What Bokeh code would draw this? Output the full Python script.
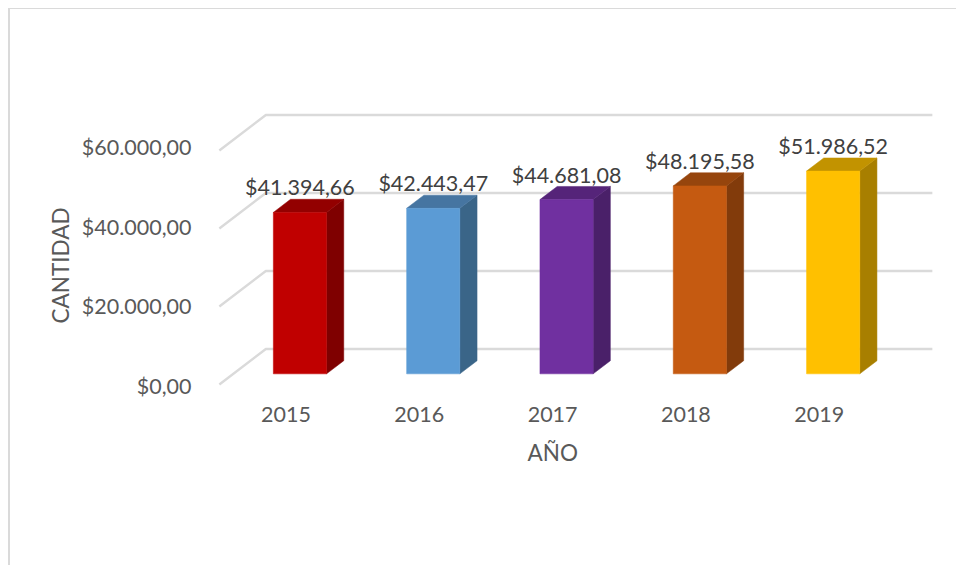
from bokeh.plotting import figure
from bokeh.models import Range1d, FixedTicker, Title
from bokeh.core.properties import value
from bokeh.embed import file_html
from bokeh.resources import INLINE

years = ["2015", "2016", "2017", "2018", "2019"]
amounts = [41394.66, 42443.47, 44681.08, 48195.58, 51986.52]
labels = ["$41.394,66", "$42.443,47", "$44.681,08", "$48.195,58", "$51.986,52"]
y_ticks = [0, 20000, 40000, 60000]
y_tick_labels = ["$0,00", "$20.000,00", "$40.000,00", "$60.000,00"]
front_colors = ["#C00000", "#5B9BD5", "#7030A0", "#C55A11", "#FFC000"]
side_colors = ["#7F0000", "#3A6588", "#4A2069", "#823B0B", "#A87F00"]
top_colors = ["#930000", "#4675A1", "#552479", "#96450D", "#C29300"]

FONT = "Lato"
TEXT = "#595959"
OX, OY = 10, 9                    # canvas origin on the page
W, H = 946, 556
L, T = 192 - OX, 100 - OY         # frame left / top
FRAME_B = 395 - OY
PX_PER_CAT = 133.3
PX_PER_VAL = 0.0039
AXIS_PX_PER_VAL = 0.003967        # labels on the side wall are spaced a little wider
CAT0_PX = 285.5 - OX
ZERO_PX = 384 - OY
AXIS_ZERO_PX = 385 - OY
DEPTH_X = 46.5 / PX_PER_CAT
DEPTH_Y = 35.5 / PX_PER_VAL
BAR_W = 53.2 / PX_PER_CAT
D0, D1 = 0.30, 0.67

p = figure(
    width=W + 2, height=H + 1, output_backend="svg", toolbar_location=None,
    x_range=Range1d((L - CAT0_PX) / PX_PER_CAT, (W + 2 - CAT0_PX) / PX_PER_CAT),
    y_range=Range1d(-(FRAME_B - ZERO_PX) / PX_PER_VAL, (ZERO_PX - T) / PX_PER_VAL),
    min_border_left=L, min_border_right=0, min_border_top=T, min_border_bottom=H + 1 - FRAME_B,
    margin=(8, 0, 0, 8),
    styles={"border-top": "1px solid #DADADA", "border-left": "2px solid #DADADA",
            "box-sizing": "border-box"},
)
p.extra_y_ranges = {"axis": Range1d(-(FRAME_B - AXIS_ZERO_PX) / AXIS_PX_PER_VAL,
                                    (AXIS_ZERO_PX - T) / AXIS_PX_PER_VAL)}
p.yaxis[0].y_range_name = "axis"
p.outline_line_color = None
p.grid.visible = False

for ax in (p.xaxis[0], p.yaxis[0]):
    ax.axis_line_color = None
    ax.major_tick_line_color = None
    ax.minor_tick_line_color = None
    ax.major_tick_out = 0
    ax.major_tick_in = 0
    ax.major_label_text_font = FONT
    ax.major_label_text_font_size = "21.5px"
    ax.major_label_text_color = TEXT

p.xaxis.ticker = FixedTicker(ticks=list(range(len(years))))
p.xaxis.major_label_overrides = {i: y for i, y in enumerate(years)}
p.xaxis.major_label_standoff = 11
p.yaxis.ticker = FixedTicker(ticks=y_ticks)
p.yaxis.major_label_standoff = 1
p.yaxis.major_label_overrides = dict(zip(y_ticks, y_tick_labels))

left = -0.5
right = len(years) - 0.5
grid_x = [[left, left + DEPTH_X, right + DEPTH_X] for _ in y_ticks]
grid_y = [[t, t + DEPTH_Y, t + DEPTH_Y] for t in y_ticks]
p.multi_line(grid_x, grid_y, line_color="#DADADA", line_width=2.4)

for i, v in enumerate(amounts):
    x0 = i - BAR_W / 2 + D0 * DEPTH_X
    x1 = i + BAR_W / 2 + D0 * DEPTH_X
    dx = (D1 - D0) * DEPTH_X
    y0 = D0 * DEPTH_Y
    y1 = v + D0 * DEPTH_Y
    dy = (D1 - D0) * DEPTH_Y
    p.patch([x1, x1 + dx, x1 + dx, x1], [y0, y0 + dy, y1 + dy, y1],
            fill_color=side_colors[i], line_color=side_colors[i], line_width=0.5)
    p.patch([x0, x1, x1 + dx, x0 + dx], [y1, y1, y1 + dy, y1 + dy],
            fill_color=top_colors[i], line_color=top_colors[i], line_width=0.5)
    p.quad(left=x0, right=x1, bottom=y0, top=y1,
           fill_color=front_colors[i], line_color=front_colors[i], line_width=0.5)
    p.text([i + D0 * DEPTH_X], [y1], text=[labels[i]], text_align="center",
           text_baseline="middle", y_offset=-25, text_font=value(FONT),
           text_font_size="21.5px", text_color="#404040")

p.add_layout(Title(text="AÑO", align="left", offset=335, standoff=24, text_font=FONT,
                   text_font_size="22.5px", text_font_style="normal", text_color=TEXT), "below")
p.add_layout(Title(text="CANTIDAD", align="left", offset=72, standoff=10, text_font=FONT,
                   text_font_size="22.5px", text_font_style="normal", text_color=TEXT), "left")

open("out.html", "w").write(file_html(p, INLINE))
